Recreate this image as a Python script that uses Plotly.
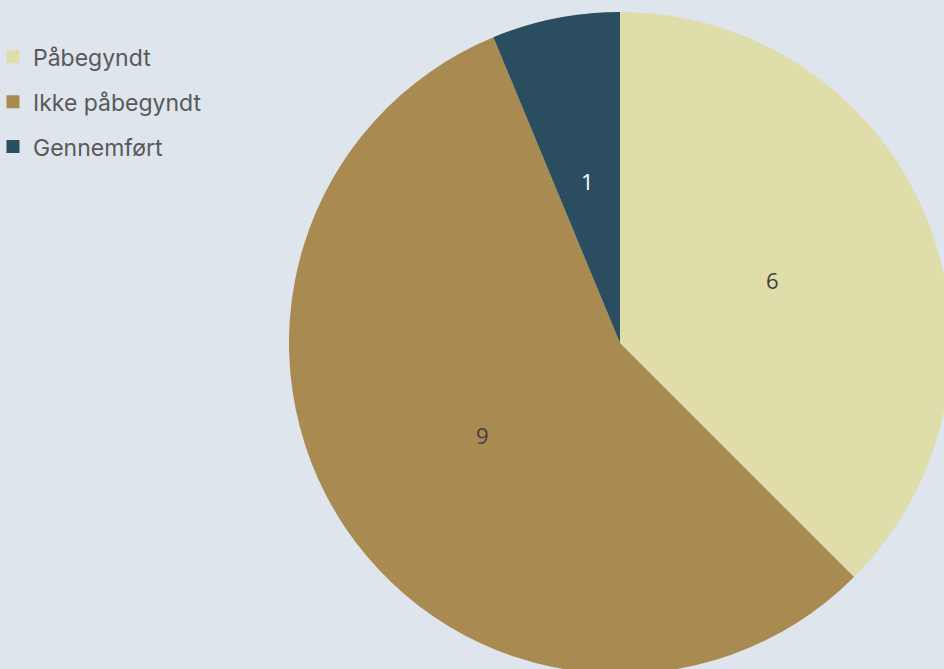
import math
import plotly.graph_objects as go

labels = ["Påbegyndt", "Ikke påbegyndt", "Gennemført"]
values = [6, 9, 1]
colors = ["#DFDDA9", "#A98A51", "#2A4D5F"]
text_colors = ["#404040", "#404040", "#FFFFFF"]

W, H = 960, 680
cx, cy, r = 620, 343, 331   # domain radius
r_lab = 331 * 0.5           # data labels at half radius, on slice bisector

fig = go.Figure()
fig.add_trace(go.Pie(
    labels=labels, values=values, sort=False, direction="clockwise", rotation=0,
    marker=dict(colors=colors, line=dict(width=0)),
    textinfo="none", showlegend=False, hoverinfo="label+value",
    domain=dict(x=[(cx - r) / W, (cx + r) / W], y=[(H - cy - r) / H, (H - cy + r) / H]),
))

total = sum(values)
cum = 0
for v, tc in zip(values, text_colors):
    mid = (cum + v / 2) / total * 2 * math.pi
    cum += v
    px = cx + r_lab * math.sin(mid)
    py = cy - r_lab * math.cos(mid)
    fig.add_annotation(x=px / W, y=(H - py) / H, xref="paper", yref="paper",
                       xanchor="center", yanchor="middle",
                       text=str(v), showarrow=False,
                       font=dict(family="Open Sans", size=22, color=tc))

for lab, col in zip(labels, colors):
    fig.add_trace(go.Scatter(
        x=[None], y=[None], mode="markers", name=lab, legendgroup=lab,
        marker=dict(symbol="square", size=13, color=col),
    ))

fig.update_layout(
    width=W, height=H, margin=dict(l=0, r=0, t=0, b=0, autoexpand=False),
    paper_bgcolor="#DEE5ED", plot_bgcolor="#DEE5ED",
    xaxis=dict(visible=False), yaxis=dict(visible=False),
    legend=dict(x=-0.0073, y=0.948, xanchor="left", yanchor="top",
                traceorder="grouped", tracegroupgap=12,
                font=dict(family="Inter", size=23, color="#595959"),
                bgcolor="rgba(0,0,0,0)", itemclick=False),
)
fig.write_html("out.html", post_script="document.body.style.overflow='hidden';document.documentElement.style.overflow='hidden';document.body.style.margin='0';")
